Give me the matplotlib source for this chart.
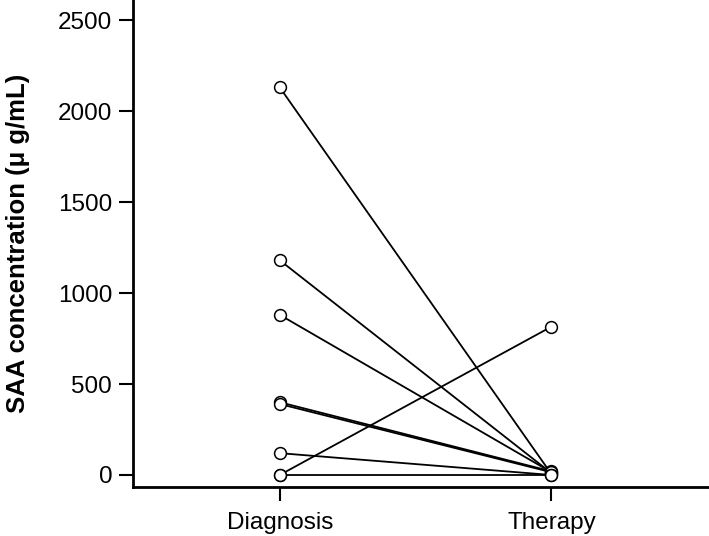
import matplotlib
matplotlib.use("Agg")
import matplotlib.pyplot as plt

# Paired SAA values per patient (ug/mL)
groups = ["Diagnosis", "Therapy"]
diagnosis = [2130, 1180, 880, 400, 390, 120, 0, 0]
therapy = [5, 10, 15, 20, 15, 0, 815, 0]
y_ticks = [0, 500, 1000, 1500, 2000, 2500]

plt.rcParams["font.family"] = ["Liberation Sans", "DejaVu Sans"]

fig = plt.figure(figsize=(7.09, 5.36), dpi=100)
ax = fig.add_axes([0.1876, 0.0914, 0.8124, 0.9086])

xs = [1, 2]
for d, t in zip(diagnosis, therapy):
    ax.plot(xs, [d, t], color="black", linewidth=1.3, zorder=2)
    ax.plot(xs, [d, t], linestyle="none", marker="o", markersize=8.5,
            markerfacecolor="white", markeredgecolor="black",
            markeredgewidth=1.1, zorder=3)

ax.set_xlim(0.46, 2.58)
ax.set_ylim(-66, 2610)
ax.set_xticks(xs)
ax.set_xticklabels(groups)
ax.set_yticks(y_ticks)
ax.tick_params(axis="both", labelsize=17.5, length=10, width=1.5,
               direction="out", pad=5)
ax.tick_params(axis="x", pad=8)

ax.spines["top"].set_visible(False)
ax.spines["right"].set_visible(False)
ax.spines["left"].set_linewidth(2)
ax.spines["bottom"].set_linewidth(2)

ax.set_ylabel("SAA concentration (\u03bc g/mL)", fontsize=18.5,
              fontweight="bold", labelpad=20)

fig.savefig("out.png", dpi=100)
